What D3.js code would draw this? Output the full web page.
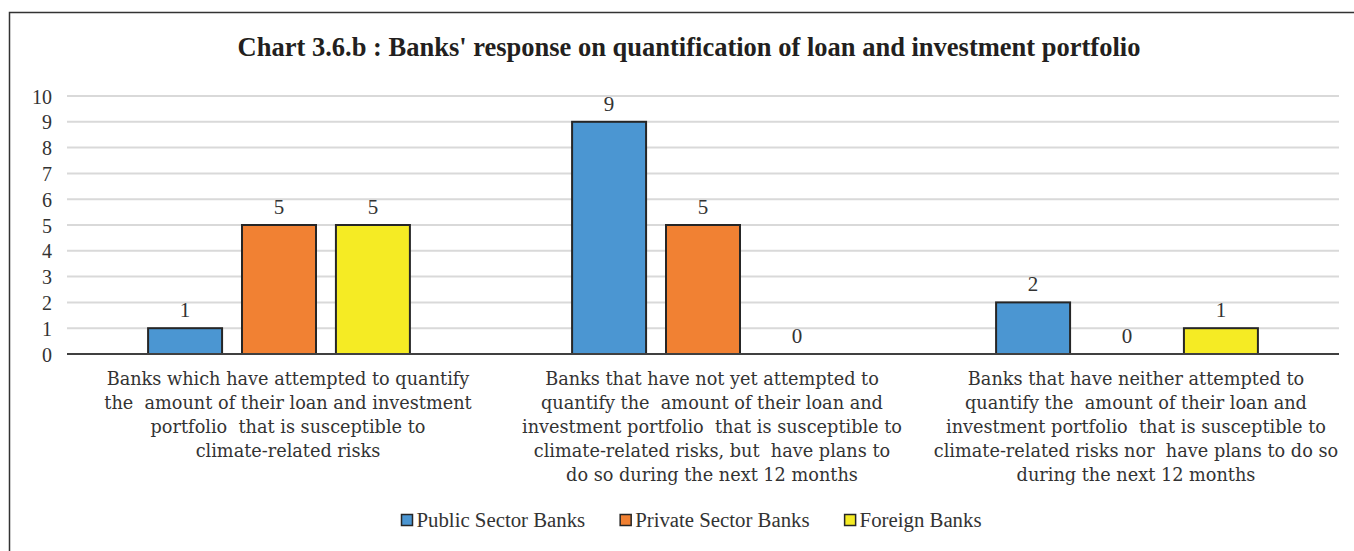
<!DOCTYPE html>
<html>
<head>
<meta charset="utf-8">
<script src="https://cdn.jsdelivr.net/npm/d3@7"></script>
<style>
  html, body { margin: 0; padding: 0; background: #fff; }
  svg { display: block; }
  text { font-family: "Liberation Serif", "DejaVu Serif", serif; fill: #333; }
</style>
</head>
<body>
<svg id="chart" width="1354" height="551"></svg>
<script>
// Chart 3.6.b data
const title = "Chart 3.6.b : Banks' response on quantification of loan and investment portfolio";

const categories = [
  ["Banks which have attempted to quantify",
   "the  amount of their loan and investment",
   "portfolio  that is susceptible to",
   "climate-related risks"],
  ["Banks that have not yet attempted to",
   "quantify the  amount of their loan and",
   "investment portfolio  that is susceptible to",
   "climate-related risks, but  have plans to",
   "do so during the next 12 months"],
  ["Banks that have neither attempted to",
   "quantify the  amount of their loan and",
   "investment portfolio  that is susceptible to",
   "climate-related risks nor  have plans to do so",
   "during the next 12 months"]
];

const seriesNames = ["Public Sector Banks", "Private Sector Banks", "Foreign Banks"];
const publicSector  = [1, 9, 2];
const privateSector = [5, 5, 0];
const foreignBanks  = [5, 0, 1];
const yTicks = [0, 1, 2, 3, 4, 5, 6, 7, 8, 9, 10];

const colors = ["#4b96d2", "#f18133", "#f5eb24"];
const seriesValues = [publicSector, privateSector, foreignBanks];

const svg = d3.select("#chart");

// outer frame
svg.append("rect")
  .attr("x", 9.5).attr("y", 12.5)
  .attr("width", 1360).attr("height", 560)
  .attr("fill", "none").attr("stroke", "#333").attr("stroke-width", 1.5);

// title
svg.append("text")
  .attr("x", 689).attr("y", 56)
  .attr("text-anchor", "middle")
  .style("font-size", "26.5px").style("font-weight", "bold").style("fill", "#231f20")
  .text(title);

const plot = { left: 67, right: 1339, top: 96, bottom: 354 };

const y = d3.scaleLinear().domain([0, 10]).range([plot.bottom, plot.top]);
const x0 = d3.scaleBand().domain(d3.range(categories.length))
  .range([plot.left, plot.right]).paddingInner(0).paddingOuter(0);

// bar layout inside each category band: 3 bars of width bw, gap g
const bandW = x0.bandwidth();
const bw = bandW * 0.1745, gap = bandW * 0.047;
const groupW = 3 * bw + 2 * gap;
const x1 = d3.scaleBand().domain(d3.range(3))
  .range([(bandW - groupW) / 2, (bandW + groupW) / 2])
  .paddingInner(gap / (bw + gap)).paddingOuter(0);

// gridlines
svg.append("g").selectAll("line")
  .data(yTicks.filter(d => d > 0))
  .join("line")
  .attr("x1", plot.left).attr("x2", plot.right)
  .attr("y1", d => y(d)).attr("y2", d => y(d))
  .attr("stroke", "#d9d9d9").attr("stroke-width", 2);

// y axis labels
const yAxis = d3.axisLeft(y).tickValues(yTicks).tickSize(0).tickPadding(0);
const yg = svg.append("g").attr("transform", `translate(${52},0)`).call(yAxis);
yg.select(".domain").remove();
yg.selectAll("text")
  .style("font-family", "'Liberation Serif', serif")
  .style("font-size", "20px").style("fill", "#333")
  .attr("dy", "0.35em");

// bars
const groups = svg.append("g").selectAll("g")
  .data(categories.map((c, i) => i))
  .join("g")
  .attr("transform", i => `translate(${x0(i)},0)`);

groups.selectAll("rect")
  .data(i => seriesValues.map((s, k) => ({ k, v: s[i] })))
  .join("rect")
  .filter(d => d.v > 0)
  .attr("x", d => x1(d.k))
  .attr("width", x1.bandwidth())
  .attr("y", d => y(d.v))
  .attr("height", d => y(0) - y(d.v))
  .attr("fill", d => colors[d.k])
  .attr("stroke", "#262626").attr("stroke-width", 2);

// value labels
groups.selectAll("text.val")
  .data(i => seriesValues.map((s, k) => ({ k, v: s[i] })))
  .join("text")
  .attr("class", "val")
  .attr("x", d => x1(d.k) + x1.bandwidth() / 2)
  .attr("y", d => y(d.v) - 11)
  .attr("text-anchor", "middle")
  .style("font-size", "21px")
  .text(d => d.v);

// x axis baseline
svg.append("line")
  .attr("x1", plot.left).attr("x2", plot.right)
  .attr("y1", plot.bottom).attr("y2", plot.bottom)
  .attr("stroke", "#404040").attr("stroke-width", 2);

// category labels (slightly right of band centre)
const catG = svg.append("g").selectAll("text")
  .data(categories)
  .join("text")
  .attr("text-anchor", "middle")
  .attr("x", (d, i) => x0(i) + bandW / 2 + 9)
  .attr("y", 385)
  .style("font-family", "'DejaVu Serif', serif")
  .style("font-size", "17.7px")
  .style("white-space", "pre");
catG.selectAll("tspan")
  .data(d => d)
  .join("tspan")
  .attr("x", function () { return d3.select(this.parentNode).attr("x"); })
  .attr("dy", (d, j) => j === 0 ? 0 : 24)
  .text(d => d);

// legend
const legend = svg.append("g");
const items = legend.selectAll("g").data(seriesNames).join("g");
items.append("rect")
  .attr("width", 11).attr("height", 11)
  .attr("y", 514.5)
  .attr("fill", (d, i) => colors[i])
  .attr("stroke", "#262626").attr("stroke-width", 1.5);
items.append("text")
  .attr("x", 15).attr("y", 527)
  .style("font-size", "20.8px")
  .text(d => d);
let widths = [];
items.each(function () { widths.push(this.getBBox().width); });
const spacing = 35;
const total = d3.sum(widths) + spacing * (widths.length - 1);
let cx = 691.5 - total / 2;
items.attr("transform", (d, i) => {
  const t = `translate(${cx},0)`;
  cx += widths[i] + spacing;
  return t;
});
</script>
</body>
</html>
